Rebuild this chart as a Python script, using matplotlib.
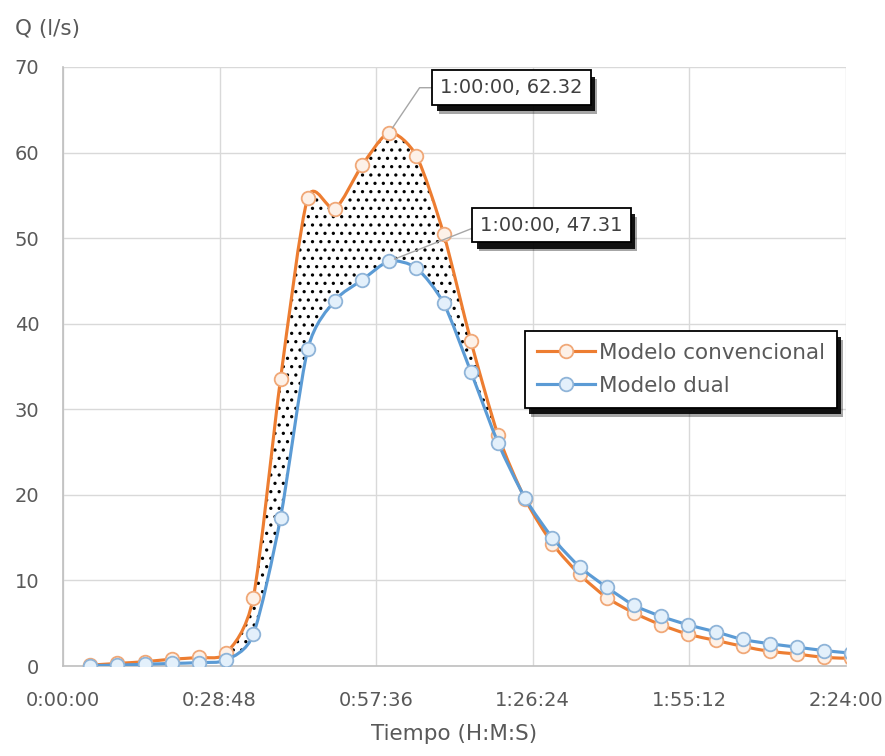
import numpy as np
import matplotlib
matplotlib.use("Agg")
import matplotlib.pyplot as plt
from matplotlib.path import Path
from matplotlib.patches import PathPatch
from matplotlib.lines import Line2D
import matplotlib.patheffects as pe

plt.rcParams['font.family'] = ['DejaVu Sans']
plt.rcParams['hatch.linewidth'] = 1.15

# Time in minutes from the start of the storm
t_min = [5, 10, 15, 20, 25, 30, 35, 40, 45, 50, 55, 60, 65, 70, 75,
         80, 85, 90, 95, 100, 105, 110, 115, 120, 125, 130, 135, 140, 145]

# Flow (l/s)
q_conv = [0.1, 0.3, 0.5, 0.8, 1.0, 1.5, 8.0, 33.5, 54.7, 53.4, 58.5, 62.32,
          59.6, 50.5, 38.0, 27.0, 19.5, 14.3, 10.7, 8.0, 6.2, 4.8, 3.7, 3.0,
          2.3, 1.7, 1.4, 1.0, 0.9]
q_dual = [0.05, 0.1, 0.2, 0.3, 0.4, 0.7, 3.7, 17.3, 37.0, 42.7, 45.1, 47.31,
          46.5, 42.4, 34.4, 26.1, 19.6, 15.0, 11.6, 9.2, 7.1, 5.8, 4.8, 4.0,
          3.1, 2.6, 2.2, 1.8, 1.5]

series_names = ["Modelo convencional", "Modelo dual"]
x_ticks = [0, 28.8, 57.6, 86.4, 115.2, 144.0]
x_ticklabels = ["0:00:00", "0:28:48", "0:57:36", "1:26:24", "1:55:12", "2:24:00"]
y_ticks = [0, 10, 20, 30, 40, 50, 60, 70]

# shaded band between the two hydrographs (minutes)
band_start, band_end = 30, 80
peak_time = 60

ORANGE = "#ED7D31"
BLUE = "#5B9BD5"
TXT = "#595959"
TENSION = 1.0 / 8.0


def bezier_vertices(x, y, i0, i1):
    """Smooth cubic Bezier through points i0..i1 (cardinal-spline controls)."""
    pts = np.column_stack([x, y]).astype(float)
    n = len(pts)
    verts = [pts[i0]]
    for i in range(i0, i1):
        p0 = pts[max(i - 1, 0)]
        p1 = pts[i]
        p2 = pts[i + 1]
        p3 = pts[min(i + 2, n - 1)]
        verts += [p1 + (p2 - p0) * TENSION, p2 - (p3 - p1) * TENSION, p2]
    return verts


def smooth_path(x, y):
    v = bezier_vertices(x, y, 0, len(x) - 1)
    codes = [Path.MOVETO] + [Path.CURVE4] * (len(v) - 1)
    return Path(v, codes)


fig = plt.figure(figsize=(8.85, 7.56), dpi=100)
ax = fig.add_axes([63 / 885, 1 - 666 / 756, (846 - 63) / 885, (666 - 67) / 756])

ax.set_xlim(0, 144)
ax.set_ylim(0, 70)

# dotted band between the curves
i0 = t_min.index(band_start)
i1 = t_min.index(band_end)
top = bezier_vertices(t_min, q_conv, i0, i1)
bot = bezier_vertices(t_min, q_dual, i0, i1)[::-1]
verts = top + bot + [top[0]]
codes = ([Path.MOVETO] + [Path.CURVE4] * (len(top) - 1) + [Path.LINETO]
         + [Path.CURVE4] * (len(bot) - 1) + [Path.CLOSEPOLY])
band = PathPatch(Path(verts, codes), facecolor='white', edgecolor='black',
                 linewidth=0, hatch='..', zorder=2)
ax.add_patch(band)

# hydrographs
mk_conv = dict(marker='o', ms=9.8, mfc='#fdf1e8', mec='#f0a878', mew=1.3)
mk_dual = dict(marker='o', ms=9.8, mfc='#e3f0fb', mec='#8fb4d8', mew=1.3)
ax.add_patch(PathPatch(smooth_path(t_min, q_conv), facecolor='none',
                       edgecolor=ORANGE, linewidth=2.25, zorder=3))
ax.plot(t_min, q_conv, linestyle='none', zorder=4, **mk_conv)
ax.add_patch(PathPatch(smooth_path(t_min, q_dual), facecolor='none',
                       edgecolor=BLUE, linewidth=2.25, zorder=5))
ax.plot(t_min, q_dual, linestyle='none', zorder=6, **mk_dual)

# axes styling
ax.set_xticks(x_ticks)
ax.set_xticklabels(x_ticklabels)
ax.set_yticks(y_ticks)
ax.tick_params(axis='both', length=0, labelsize=14, labelcolor=TXT)
ax.tick_params(axis='x', pad=18)
ax.tick_params(axis='y', pad=17)
ax.grid(True, color='#d9d9d9', linewidth=1.0, zorder=0)
ax.set_axisbelow(True)
for s in ['top', 'right']:
    ax.spines[s].set_visible(False)
for s in ['left', 'bottom']:
    ax.spines[s].set_color('#bfbfbf')
    ax.spines[s].set_linewidth(1.2)

ax.set_xlabel("Tiempo (H:M:S)", fontsize=15.5, color=TXT, labelpad=10)
fig.text(15 / 885, 1 - 29 / 756, "Q (l/s)", fontsize=15.5, color=TXT,
         ha='left', va='center')

# legend
handles = [Line2D([], [], color=ORANGE, lw=2.25, **mk_conv),
           Line2D([], [], color=BLUE, lw=2.25, **mk_dual)]
leg = ax.legend(handles, series_names, loc='upper left',
                bbox_to_anchor=(525 / 885, 1 - 331 / 756),
                bbox_transform=fig.transFigure, borderaxespad=0,
                fontsize=15.5, frameon=True, fancybox=False, framealpha=1,
                edgecolor='black', handlelength=2.7, handletextpad=0.2,
                labelspacing=0.6, borderpad=0.55)
for txt in leg.get_texts():
    txt.set_color(TXT)
leg.get_frame().set_linewidth(1.3)
shadow = [pe.SimplePatchShadow(offset=(4.5, -6.5), shadow_rgbFace='black', alpha=0.35),
          pe.SimplePatchShadow(offset=(3, -4.5), shadow_rgbFace='black', alpha=0.9),
          pe.Normal()]
leg.get_frame().set_path_effects(shadow)
leg.set_zorder(10)

# peak value callouts
ip = t_min.index(peak_time)


def fmt_time(m):
    return "%d:%02d:00" % (m // 60, m % 60)


callouts = [
    (q_conv[ip], (51, 45), 'angle,angleA=0,angleB=56,rad=0'),
    (q_dual[ip], (91, 36), 'arc3,rad=0'),
]
for val, offs, cs in callouts:
    ann = ax.annotate(
        "%s, %.2f" % (fmt_time(peak_time), val),
        xy=(peak_time, val), xytext=offs, textcoords='offset pixels',
        ha='left', va='center', fontsize=14, color='#404040', zorder=9,
        bbox=dict(boxstyle='square,pad=0.4', fc='white', ec='black', lw=1.3),
        arrowprops=dict(arrowstyle='-', color='#a6a6a6', lw=1.0, shrinkA=0,
                        shrinkB=4, relpos=(0, 0.5), connectionstyle=cs))
    ann.get_bbox_patch().set_path_effects(shadow)

fig.savefig("out.png", dpi=100, facecolor='white')
